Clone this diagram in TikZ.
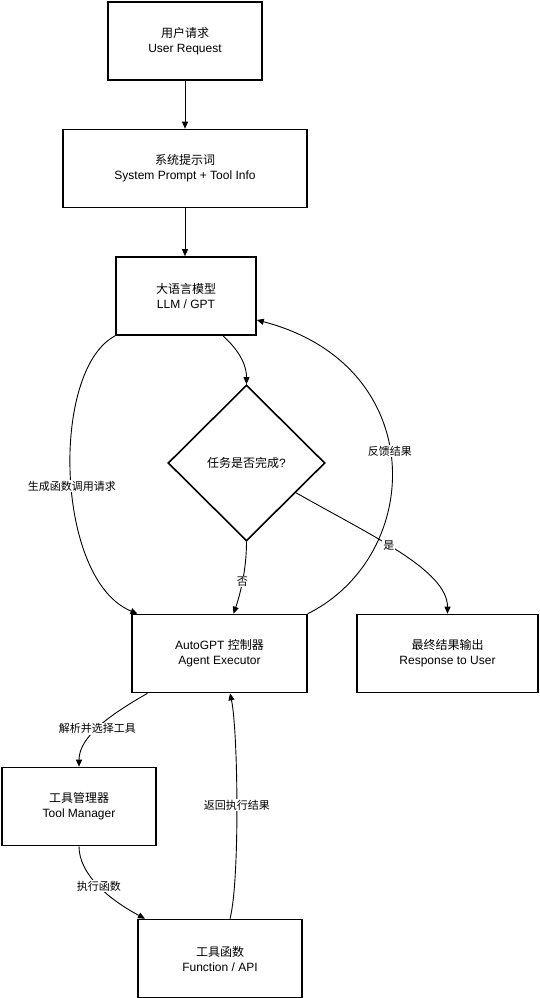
\documentclass[tikz,border=0pt]{standalone}
\usepackage{fontspec}
\setmainfont{Liberation Sans}
\newfontfamily\cjk{Noto Sans CJK SC}
\usepackage{tikz}
\usetikzlibrary{arrows.meta,positioning,shapes.geometric}
\tikzset{
  stepbox/.style={
    rectangle, draw=black, fill=white, line width=1.6pt,
    minimum width=#1, minimum height=78pt,
    font=\fontsize{12}{15}\selectfont, align=center,
    inner sep=2pt
  },
  stepbox/.default=154pt,
  decision/.style={
    diamond, aspect=1, draw=black, fill=white, line width=1.6pt,
    minimum width=157pt, minimum height=156pt,
    font=\fontsize{12}{15}\selectfont, align=center,
    inner sep=0pt
  },
  flowarrow/.style={
    -{Triangle[length=7pt,width=6pt]}, line width=0.9pt, color=black
  },
  edgelabel/.style={
    fill=white, font=\cjk\fontsize{11}{13}\selectfont,
    inner sep=1pt
  },
}

\begin{document}
\begin{tikzpicture}[x=1pt,y=-1pt]
  \useasboundingbox (0,0) rectangle (539,998);

  % Main column
  \node[stepbox=154pt] at (185,41) (user) {{\cjk 用户请求}\\User Request};
  \node[stepbox=244pt] at (185,168.5) (prompt) {{\cjk 系统提示词}\\System Prompt + Tool Info};
  \node[stepbox=140pt] at (186,296) (llm) {{\cjk 大语言模型}\\LLM / GPT};
  \node[decision] at (246.5,463) (done) {{\cjk 任务是否完成}?};
  \node[stepbox=175pt] at (219.5,653.5) (agent) {AutoGPT {\cjk 控制器}\\Agent Executor};
  \node[stepbox=181pt] at (447.5,653.5) (answer) {{\cjk 最终结果输出}\\Response to User};

  % Tool side
  \node[stepbox=154pt] at (79,806.5) (toolmgr) {{\cjk 工具管理器}\\Tool Manager};
  \node[stepbox=164pt] at (220,958.5) (func) {{\cjk 工具函数}\\Function / API};

  \draw[flowarrow] (user) -- (prompt);
  \draw[flowarrow] (prompt.south) -- (prompt.south |- llm.north);
  \draw[flowarrow] ([xshift=37pt]llm.south) .. controls (233,345) and (246.5,360) .. (done.north);
  \draw[flowarrow] (llm.south west) .. controls (50,370) and (55,580) .. ([xshift=-82pt]agent.north)
    node[edgelabel, pos=0.53] {生成函数调用请求};
  \draw[flowarrow] (done.south) .. controls (246.5,570) and (240,595) .. ([xshift=14pt]agent.north)
    node[edgelabel, pos=0.5] {否};
  \draw[flowarrow] (done.-31) .. controls (370,535) and (447.5,570) .. (answer.north)
    node[edgelabel, pos=0.44] {是};
  \draw[flowarrow] (agent.north east) .. controls (425,555) and (430,365) .. ([yshift=-24pt]llm.east)
    node[edgelabel, pos=0.53] {反馈结果};

  \draw[flowarrow] ([xshift=-72pt]agent.south) .. controls (115,712) and (79,735) .. (toolmgr.north)
    node[edgelabel, pos=0.55] {解析并选择工具};
  \draw[flowarrow] (toolmgr.south) .. controls (79,875) and (110,900) .. ([xshift=-75pt]func.north)
    node[edgelabel, pos=0.5] {执行函数};
  \draw[flowarrow] ([xshift=10pt]func.north) .. controls (240,880) and (238,730) .. ([xshift=10.5pt]agent.south)
    node[edgelabel, pos=0.5] {返回执行结果};
\end{tikzpicture}
\end{document}
